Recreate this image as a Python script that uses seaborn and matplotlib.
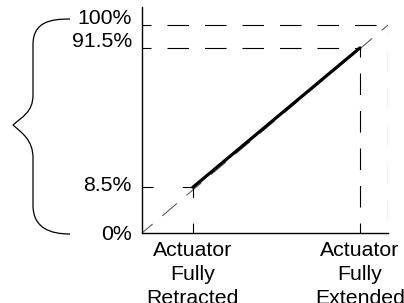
import matplotlib
matplotlib.use('Agg')
import matplotlib.pyplot as plt
import pandas as pd
import seaborn as sns
from matplotlib.path import Path
from matplotlib.patches import PathPatch
from matplotlib.transforms import Affine2D

# schematic positions (the sketch is not to scale)
travel_x = [0, 20.7, 88.6, 100]        # actuator stroke: start, retracted, extended, end
output_y = [0, 22, 89, 100]            # output signal position on the sketch
output_labels = ['0%', '8.5%', '91.5%', '100%']
travel_labels = ['Actuator\nFully\nRetracted', 'Actuator\nFully\nExtended']

sns.set_theme(style='white')
plt.rcParams['font.family'] = ['Liberation Sans', 'DejaVu Sans']
plt.rcParams['lines.scale_dashes'] = False

fig = plt.figure(figsize=(4.04, 3.03), dpi=100)
ax = fig.add_axes([142 / 404, 1 - 233 / 303, 246 / 404, 226 / 303])

# actual working range (thick) and full 0-100 reference diagonal (thin)
work = pd.DataFrame({'x': travel_x[1:3], 'y': output_y[1:3]})
full = pd.DataFrame({'x': [travel_x[0], travel_x[3]], 'y': [output_y[0], output_y[3]]})
sns.lineplot(data=full, x='x', y='y', ax=ax, color='0.3', lw=0.7,
             linestyle=(4, (14, 9)), zorder=2)
sns.lineplot(data=work, x='x', y='y', ax=ax, color='black', lw=2.3, zorder=3)

# dashed guide lines
long_dash = (9, (15.5, 11.5))
ax.plot([travel_x[0], travel_x[3]], [output_y[3]] * 2, color='black', lw=0.8, ls=long_dash)
ax.plot([travel_x[0], travel_x[2]], [output_y[2]] * 2, color='black', lw=0.8, ls=long_dash)
ax.plot([travel_x[3]] * 2, [output_y[3], output_y[0]], color='black', lw=0.8, ls=long_dash)
ax.plot([travel_x[2]] * 2, [output_y[2], output_y[0]], color='black', lw=0.8, ls=long_dash)
ax.plot([travel_x[0], travel_x[1]], [output_y[1]] * 2, color='black', lw=0.8, ls=(0, (8, 21)))
ax.plot([travel_x[1]] * 2, [output_y[1], output_y[0]], color='black', lw=0.8, ls=(0, (7.5, 18.5)))

ax.set_xlim(0, 100)
ax.set_ylim(0, 108.65)
sns.despine(ax=ax)
for side in ['left', 'bottom']:
    ax.spines[side].set_color('black')
    ax.spines[side].set_linewidth(1.0)

ax.set_xticks(travel_x[1:3], travel_labels, fontsize=15.3, linespacing=1.32)
ax.set_yticks([])
ax.tick_params(axis='x', length=0, pad=6, colors='black')
ax.set_xlabel('')
ax.set_ylabel('')

# y labels sit slightly off their guide lines in the original
label_shift = [-2, 2, 6, 6]
for y, lab, dy in zip(output_y, output_labels, label_shift):
    ax.annotate(lab, xy=(0, y), xytext=(-10, dy), textcoords='offset pixels',
                ha='right', va='center', fontsize=15.3, color='black',
                annotation_clip=False)

# curly brace on the left, drawn in pixel coordinates (top-left origin)
verts = [(70, 19), (50, 19), (33, 22), (33, 45),
         (33, 95),
         (33, 112), (22, 117), (13, 125),
         (22, 133), (33, 140), (33, 158),
         (33, 205),
         (33, 228), (50, 234), (70, 234)]
codes = [Path.MOVETO, Path.CURVE4, Path.CURVE4, Path.CURVE4,
         Path.LINETO,
         Path.CURVE4, Path.CURVE4, Path.CURVE4,
         Path.CURVE4, Path.CURVE4, Path.CURVE4,
         Path.LINETO,
         Path.CURVE4, Path.CURVE4, Path.CURVE4]
brace = PathPatch(Path(verts, codes), fill=False, edgecolor='black', lw=0.9,
                  transform=Affine2D().scale(1, -1).translate(0, 303))
fig.add_artist(brace)

fig.savefig('out.png', dpi=100, facecolor='white')
